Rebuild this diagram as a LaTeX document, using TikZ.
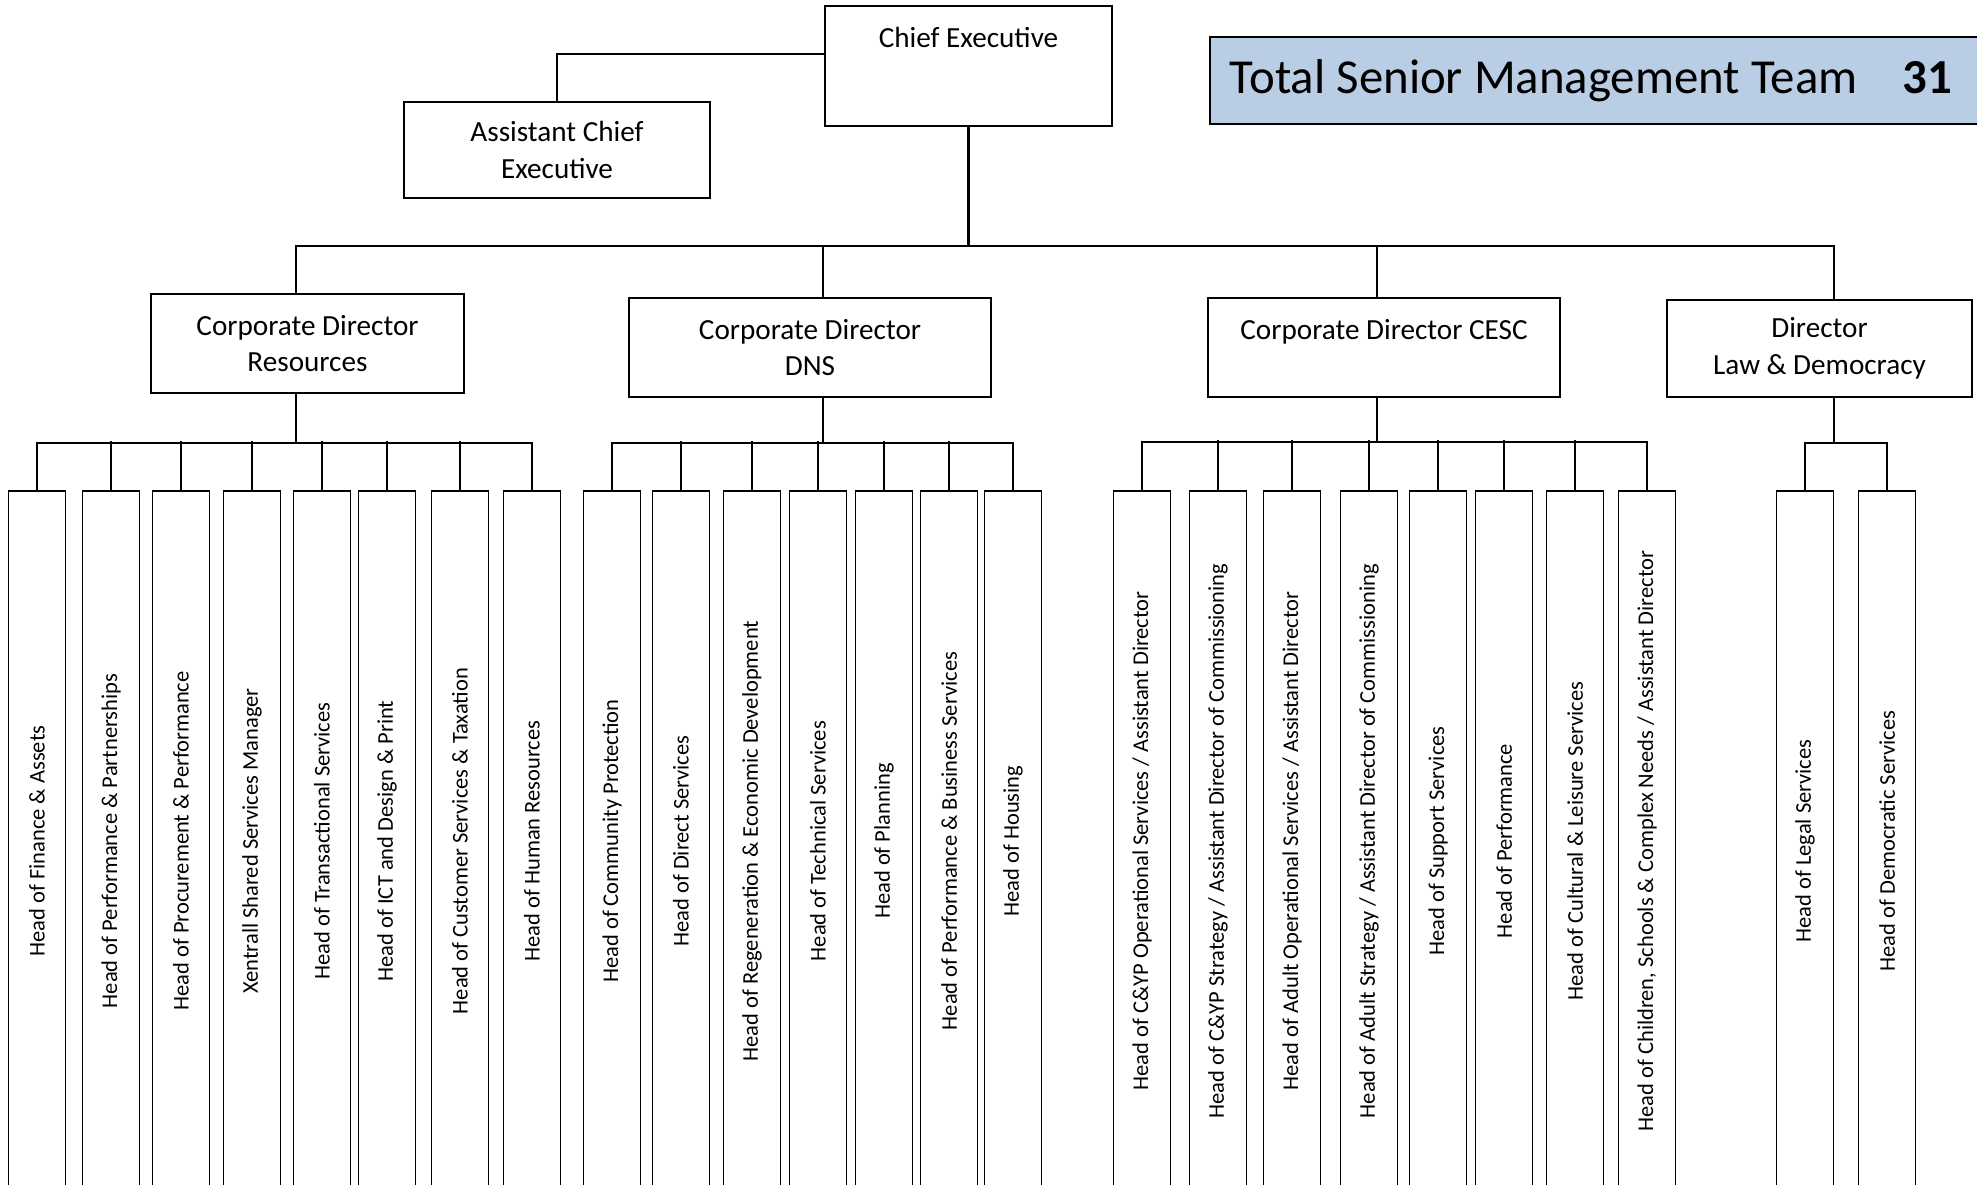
\documentclass[tikz,border=0pt]{standalone}
\usepackage{fontspec}
\setmainfont{Carlito}
\definecolor{teamblue}{RGB}{185,205,229}

\begin{document}
\begin{tikzpicture}[x=0.01cm, y=-0.01cm,
    headbox/.style={draw, line width=0.5pt, inner sep=0pt, align=center,
        font=\fontsize{8.3}{10.4}\selectfont},
    leafbox/.style={draw, line width=0.5pt, inner sep=0pt, rotate=90,
        minimum width=7cm, minimum height=0.57cm, font=\fontsize{6.4}{7.7}\selectfont},
    link/.style={line width=0.7pt}]
    \useasboundingbox (0,0) rectangle (1977,1184);

    % top of the tree
    \node[headbox, minimum width=2.87cm, minimum height=1.2cm, text depth=0.58cm] (ce) at (968.5,66) {Chief Executive};
    \node[headbox, minimum width=3.06cm, minimum height=0.96cm] (ace) at (557,150) {Assistant Chief\\Executive};
    \node[draw, line width=0.5pt, fill=teamblue, anchor=west, inner xsep=0.2cm, inner ysep=0pt,
        minimum height=0.87cm, font=\fontsize{13.9}{16}\selectfont]
        (team) at (1209,80.5) {\makebox[7.45cm][l]{Total Senior Management Team\hspace{0.45cm}\textbf{31}}};

    % directors
    \node[headbox, minimum width=3.13cm, minimum height=0.99cm] (res) at (307.5,343.5) {Corporate Director\\Resources};
    \node[headbox, minimum width=3.62cm, minimum height=0.99cm] (dns) at (810,347.5) {Corporate Director\\DNS};
    \node[headbox, minimum width=3.52cm, minimum height=0.99cm] (cesc) at (1384,347.5) {Corporate Director CESC\\\mbox{}};
    \node[headbox, minimum width=3.05cm, minimum height=0.97cm] (law) at (1819.5,348.5) {Director\\Law \& Democracy};

    % heads under resources
    \node[leafbox] (r1) at (37,841) {Head of Finance \& Assets};
    \node[leafbox] (r2) at (111,841) {Head of Performance \& Partnerships};
    \node[leafbox] (r3) at (181,841) {Head of Procurement \& Performance};
    \node[leafbox] (r4) at (252,841) {Xentrall Shared Services Manager};
    \node[leafbox] (r5) at (322,841) {Head of Transactional Services};
    \node[leafbox] (r6) at (387,841) {Head of ICT and Design \& Print};
    \node[leafbox] (r7) at (460,841) {Head of Customer Services \& Taxation};
    \node[leafbox] (r8) at (532,841) {Head of Human Resources};

    % heads under DNS
    \node[leafbox] (d1) at (612,841) {Head of Community Protection};
    \node[leafbox] (d2) at (681,841) {Head of Direct Services};
    \node[leafbox] (d3) at (752,841) {Head of Regeneration \& Economic Development};
    \node[leafbox] (d4) at (818,841) {Head of Technical Services};
    \node[leafbox] (d5) at (884,841) {Head of Planning};
    \node[leafbox] (d6) at (949,841) {Head of Performance \& Business Services};
    \node[leafbox] (d7) at (1013,841) {Head of Housing};

    % heads under CESC
    \node[leafbox] (c1) at (1142,841) {Head of C\&YP Operational Services / Assistant Director};
    \node[leafbox] (c2) at (1218,841) {Head of C\&YP Strategy / Assistant Director of Commissioning};
    \node[leafbox] (c3) at (1292,841) {Head of Adult Operational Services / Assistant Director};
    \node[leafbox] (c4) at (1369,841) {Head of Adult Strategy / Assistant Director of Commissioning};
    \node[leafbox] (c5) at (1438,841) {Head of Support Services};
    \node[leafbox] (c6) at (1504,841) {Head of Performance};
    \node[leafbox] (c7) at (1575,841) {Head of Cultural \& Leisure Services};
    \node[leafbox] (c8) at (1647,841) {Head of Children, Schools \& Complex Needs / Assistant Director};

    % heads under law
    \node[leafbox] (l1) at (1805,841) {Head of Legal Services};
    \node[leafbox] (l2) at (1887,841) {Head of Democratic Services};

    % links
    \draw[link] ([yshift=0.12cm]ce.west) -| (ace.north);
    \draw[link] (ce.south) -- ++(0,119) -| ([xshift=-0.115cm]res.north);
    \draw[link] (ce.south) -- ++(0,119) -| ([xshift=0.13cm]dns.north);
    \draw[link] (ce.south) -- ++(0,119) -| ([xshift=-0.07cm]cesc.north);
    \draw[link] (ce.south) -- ++(0,119) -| ([xshift=0.145cm]law.north);

    \draw[link] ([xshift=-0.115cm]res.south) -- ++(0,49) -| (r1.east);
    \draw[link] ([xshift=-0.115cm]res.south) -- ++(0,49) -| (r8.east);
    \draw[link] (r2.east) -- ++(0,-49);
    \draw[link] (r3.east) -- ++(0,-49);
    \draw[link] (r4.east) -- ++(0,-49);
    \draw[link] (r5.east) -- ++(0,-49);
    \draw[link] (r6.east) -- ++(0,-49);
    \draw[link] (r7.east) -- ++(0,-49);

    \draw[link] ([xshift=0.13cm]dns.south) -- ++(0,45) -| (d1.east);
    \draw[link] ([xshift=0.13cm]dns.south) -- ++(0,45) -| (d7.east);
    \draw[link] (d2.east) -- ++(0,-49);
    \draw[link] (d3.east) -- ++(0,-49);
    \draw[link] (d4.east) -- ++(0,-49);
    \draw[link] (d5.east) -- ++(0,-49);
    \draw[link] (d6.east) -- ++(0,-49);

    \draw[link] ([xshift=-0.07cm]cesc.south) -- ++(0,44) -| (c1.east);
    \draw[link] ([xshift=-0.07cm]cesc.south) -- ++(0,44) -| (c8.east);
    \draw[link] (c2.east) -- ++(0,-50);
    \draw[link] (c3.east) -- ++(0,-50);
    \draw[link] (c4.east) -- ++(0,-50);
    \draw[link] (c5.east) -- ++(0,-50);
    \draw[link] (c6.east) -- ++(0,-50);
    \draw[link] (c7.east) -- ++(0,-50);

    \draw[link] ([xshift=0.145cm]law.south) -- ++(0,45) -| (l1.east);
    \draw[link] ([xshift=0.145cm]law.south) -- ++(0,45) -| (l2.east);
\end{tikzpicture}
\end{document}
